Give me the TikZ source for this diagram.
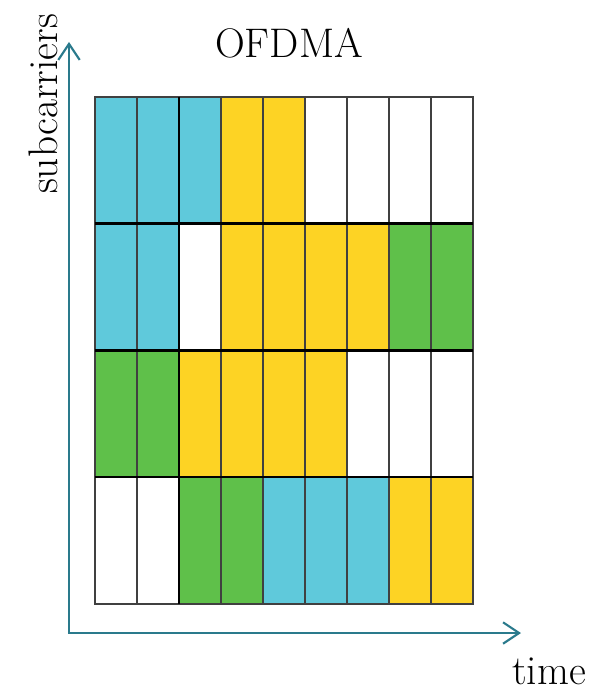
\documentclass[tikz,border=0pt]{standalone}
\usetikzlibrary{arrows.meta}

\definecolor{ucyan}{RGB}{95,201,219}
\definecolor{uyellow}{RGB}{253,211,36}
\definecolor{ugreen}{RGB}{95,192,74}
\definecolor{axisteal}{RGB}{42,122,140}

\tikzset{every picture/.style={line width=0.75pt}}

\begin{document}
\begin{tikzpicture}[
            x=0.75pt,
            y=0.75pt,
            yscale=-1,
            xscale=1,
            every node/.style={text=black},
            line width=0.75pt,
            cell/.style={draw=black!75, line width=1.1pt},
            sep/.style={draw=black, line width=2.2pt},
            axis/.style={draw=axisteal, line width=1.6pt, -{Straight Barb[length=12pt,width=16pt,line width=1.6pt]}},
            lbl/.style={inner sep=0pt, font=\fontsize{31}{33}\selectfont}
        ]
            \useasboundingbox (0,0) rectangle (607,691);

            % time/frequency grid: one row of colours per subcarrier block
            \foreach \row/\cols in {0/{ucyan,ucyan,ucyan,uyellow,uyellow,white,white,white,white},
                                    1/{ucyan,ucyan,white,uyellow,uyellow,uyellow,uyellow,ugreen,ugreen},
                                    2/{ugreen,ugreen,uyellow,uyellow,uyellow,uyellow,white,white,white},
                                    3/{white,white,ugreen,ugreen,ucyan,ucyan,ucyan,uyellow,uyellow}} {
                \foreach \c [count=\k from 0] in \cols {
                    \draw [cell, fill=\c] (95+42*\k,97+126.7*\row) rectangle ++(42,126.7);
                }
            }

            % thicker borders between blocks
            \draw [sep] (95,223.7) -- (473,223.7);
            \draw [sep] (95,350.4) -- (473,350.4);
            \draw [sep, line width=1.8pt] (95,477.1) -- (473,477.1);
            \draw [sep] (179,97) -- (179,603.8);

            % axes
            \coordinate (origin) at (69,633);
            \coordinate (ytip) at (69,42);
            \coordinate (xtip) at (521,633);
            \draw [axis] (origin) -- (ytip);
            \draw [axis] ([xshift=-0.8pt]origin) -- (xtip);

            \draw (289,43) node [lbl] (title) {OFDMA};
            \draw (549,671) node [lbl] (tlabel) {time};
            \draw (43,104) node [lbl, rotate=90] (flabel) {subcarriers};
        \end{tikzpicture}
\end{document}
